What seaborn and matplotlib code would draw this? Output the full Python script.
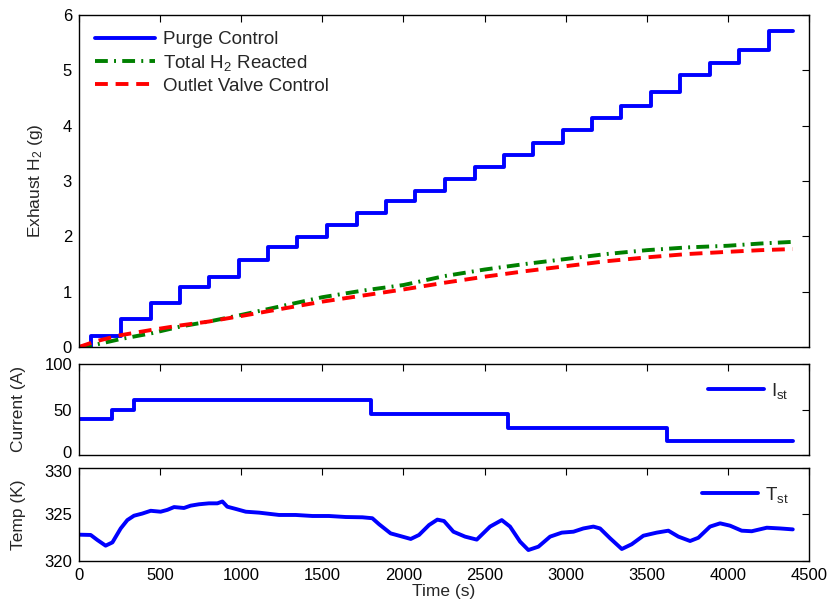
import numpy as np
import pandas as pd
import matplotlib
matplotlib.use("Agg")
import matplotlib.pyplot as plt
import matplotlib.transforms as mtransforms
import seaborn as sns

# ---- data ----
purge_t = [0, 72, 257, 444, 625, 803, 986, 1167, 1346, 1531, 1712, 1893, 2073,
           2256, 2439, 2618, 2801, 2982, 3165, 3343, 3525, 3705, 3888, 4071, 4252, 4400]
purge_v = [0.0, 0.19, 0.50, 0.79, 1.08, 1.26, 1.57, 1.80, 1.99, 2.20, 2.42, 2.64, 2.82,
           3.03, 3.26, 3.47, 3.69, 3.92, 4.14, 4.36, 4.60, 4.92, 5.13, 5.37, 5.71, 5.71]

react_t = [0, 100, 250, 450, 625, 800, 1000, 1250, 1500, 1750, 2000, 2250, 2500,
           2750, 3000, 3250, 3500, 3750, 4000, 4200, 4400]
react_v = [0.0, 0.04, 0.14, 0.25, 0.37, 0.46, 0.58, 0.74, 0.90, 1.02, 1.12, 1.28, 1.40,
           1.50, 1.59, 1.68, 1.75, 1.80, 1.83, 1.87, 1.90]
valve_v = [0.0, 0.10, 0.21, 0.31, 0.39, 0.46, 0.56, 0.69, 0.82, 0.93, 1.04, 1.16, 1.27,
           1.37, 1.46, 1.55, 1.62, 1.68, 1.72, 1.75, 1.77]

cur_t = [0, 203, 339, 1800, 2642, 3627, 4400]
cur_v = [40, 50, 60, 45, 30, 15, 15]

temp_t = [0, 72, 113, 164, 206, 257, 298, 339, 390, 442, 503, 545, 586, 647, 688,
          740, 801, 853, 884, 914, 966, 1028, 1110, 1233, 1336, 1439, 1541, 1644,
          1747, 1808, 1850, 1921, 1973, 2045, 2096, 2158, 2209, 2250, 2308, 2380,
          2452, 2534, 2606, 2657, 2719, 2770, 2832, 2904, 2976, 3048, 3109, 3171,
          3212, 3274, 3346, 3407, 3479, 3561, 3633, 3695, 3767, 3818, 3890, 3952,
          4013, 4085, 4147, 4240, 4322, 4400]
temp_v = [322.83, 322.8, 322.26, 321.65, 322.0, 323.5, 324.4, 324.87, 325.1, 325.4,
          325.3, 325.5, 325.8, 325.7, 325.95, 326.1, 326.2, 326.2, 326.4, 325.84,
          325.6, 325.3, 325.2, 324.95, 324.95, 324.84, 324.84, 324.73, 324.7, 324.6,
          323.95, 322.97, 322.72, 322.37, 322.8, 323.87, 324.45, 324.3, 323.15,
          322.62, 322.3, 323.7, 324.4, 323.7, 322.08, 321.18, 321.54, 322.62, 323.05,
          323.15, 323.5, 323.7, 323.5, 322.44, 321.29, 321.8, 322.72, 323.05, 323.26,
          322.62, 322.15, 322.5, 323.7, 324.05, 323.8, 323.26, 323.2, 323.58, 323.5,
          323.4]

x_ticks = [0, 500, 1000, 1500, 2000, 2500, 3000, 3500, 4000, 4500]

# ---- style ----
sns.set_style("white")
plt.rcParams["font.family"] = ["Liberation Sans", "DejaVu Sans"]
plt.rcParams["mathtext.fontset"] = "custom"
plt.rcParams["mathtext.rm"] = "Liberation Sans"
plt.rcParams["mathtext.it"] = "Liberation Sans"
FS = 12.5
TFS = 12
LFS = 13.5

fig = plt.figure(figsize=(8.35, 6.07), dpi=100)
L, W = 79 / 835, (809 - 79) / 835


def ax_at(top_px, bot_px):
    return fig.add_axes([L, 1 - bot_px / 607, W, (bot_px - top_px) / 607])


ax1 = ax_at(15, 347)
ax2 = ax_at(364, 455)
ax3 = ax_at(468, 561)

df_p = pd.DataFrame({"t": purge_t, "v": purge_v})
df_r = pd.DataFrame({"t": react_t, "g": react_v, "r": valve_v})
df_c = pd.DataFrame({"t": cur_t, "v": cur_v})
df_T = pd.DataFrame({"t": temp_t, "v": temp_v})

LW = 2.8
sns.lineplot(data=df_p, x="t", y="v", ax=ax1, color="#0000ff", lw=LW,
             drawstyle="steps-post", label="Purge Control")
sns.lineplot(data=df_r, x="t", y="g", ax=ax1, color="#008000", lw=LW,
             linestyle=(0, (3.3, 1.6, 0.5, 1.6)), label="Total H$_2$ Reacted")
sns.lineplot(data=df_r, x="t", y="r", ax=ax1, color="#ff0000", lw=LW,
             linestyle=(0, (3.3, 2.0)), label="Outlet Valve Control")

sns.lineplot(data=df_c, x="t", y="v", ax=ax2, color="#0000ff", lw=LW,
             drawstyle="steps-post", label="I$_{st}$")
sns.lineplot(data=df_T, x="t", y="v", ax=ax3, color="#0000ff", lw=LW,
             label="T$_{st}$")

ax1.set_ylim(0, 6)
ax1.set_yticks(range(0, 7))
ax2.set_ylim(0, 100)
ax2.set_yticks([0, 50, 100])
ax3.set_ylim(320, 330)
ax3.set_yticks([320, 325, 330])

for ax in (ax1, ax2, ax3):
    ax.set_xlim(0, 4500)
    ax.set_xticks(x_ticks)
    ax.tick_params(direction="in", top=True, right=True, length=5, width=0.8,
                   labelsize=TFS, colors="black", pad=5)
    for s in ax.spines.values():
        s.set_color("black")
        s.set_linewidth(1.0)
    ax.set_xlabel("")
    ax.set_ylabel("")

ax1.tick_params(labelbottom=False)
ax2.tick_params(labelbottom=False)
ax3.set_xlabel("Time (s)", fontsize=FS, labelpad=1)
ax1.set_ylabel("Exhaust H$_2$ (g)", fontsize=FS)
ax2.set_ylabel("Current (A)", fontsize=FS)
ax3.set_ylabel("Temp (K)", fontsize=FS)
ax1.yaxis.set_label_coords(-0.046, 0.5)
ax2.yaxis.set_label_coords(-0.072, 0.5)
ax3.yaxis.set_label_coords(-0.072, 0.5)

ax1.legend(loc="upper left", frameon=False, fontsize=LFS, handlelength=3.2,
           handletextpad=0.45, labelspacing=0.25, borderaxespad=0.45,
           bbox_to_anchor=(0.0, 1.0))
ax2.legend(loc="upper right", frameon=False, fontsize=LFS, handlelength=3.0,
           handletextpad=0.35, borderaxespad=0.3, bbox_to_anchor=(0.99, 0.96))
ax3.legend(loc="upper right", frameon=False, fontsize=LFS, handlelength=3.0,
           handletextpad=0.35, borderaxespad=0.3, bbox_to_anchor=(0.99, 0.96))

# nudge the touching tick labels between the lower panels slightly apart
fig.canvas.draw()
up = mtransforms.ScaledTranslation(0, 2.0 / 72, fig.dpi_scale_trans)
down = mtransforms.ScaledTranslation(0, -2.0 / 72, fig.dpi_scale_trans)
t0 = ax2.yaxis.get_major_ticks()[0].label1
t0.set_transform(t0.get_transform() + up)
t1 = ax3.yaxis.get_major_ticks()[-1].label1
t1.set_transform(t1.get_transform() + down)

fig.savefig("out.png", dpi=100)
